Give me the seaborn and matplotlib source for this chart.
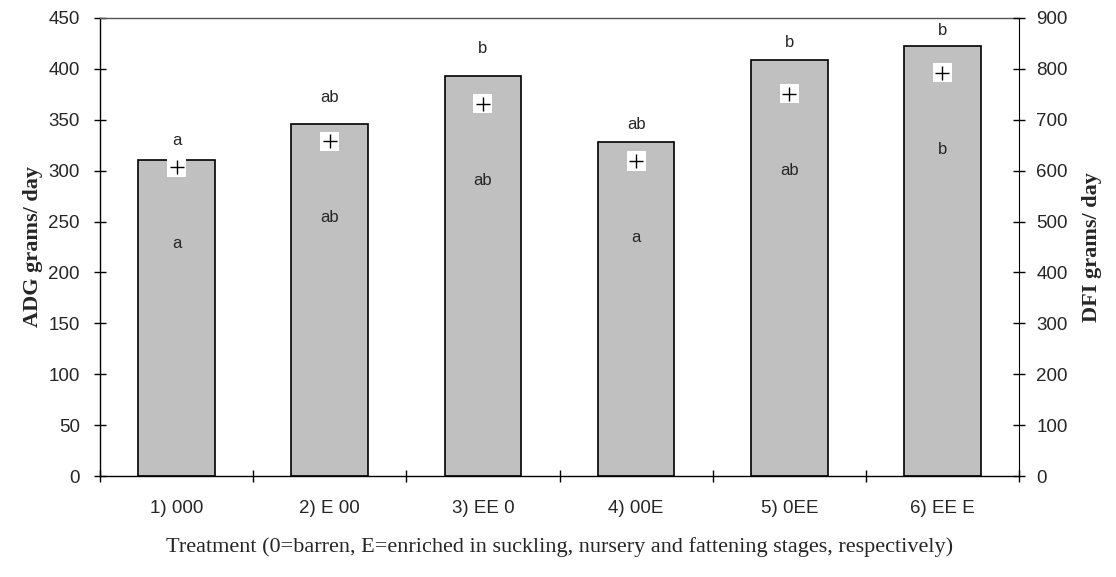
import matplotlib
matplotlib.use("Agg")
import matplotlib.pyplot as plt
import seaborn as sns
import pandas as pd

# values
treatments = ["1) 000", "2) E 00", "3) EE 0", "4) 00E", "5) 0EE", "6) EE E"]
adg = [310, 346, 393, 328, 409, 422]          # bars, left axis
dfi = [607, 658, 731, 619, 751, 792]          # markers, right axis
adg_letters = ["a", "ab", "b", "ab", "b", "b"]
dfi_letters = ["a", "ab", "ab", "a", "ab", "b"]

df = pd.DataFrame({"treatment": treatments, "adg": adg, "dfi": dfi})

sns.set_style("white")
plt.rcParams["font.family"] = ["Liberation Sans", "DejaVu Sans"]

fig = plt.figure(figsize=(11.16, 5.77), dpi=100)
ax = fig.add_axes([0.0896, 0.175, 0.8235, 0.794])

sns.barplot(data=df, x="treatment", y="adg", color="#c0c0c0", saturation=1,
            edgecolor="black", linewidth=1.2, width=0.5, ax=ax)
ax.set_ylim(0, 450)
ax.set_xlim(-0.5, 5.5)
ax.set_yticks(range(0, 451, 50))
ax.set_xticks([i - 0.5 for i in range(7)], minor=True)
ax.tick_params(axis="x", which="major", bottom=False, pad=14, labelsize=13.5)
ax.tick_params(axis="x", which="minor", bottom=True, direction="inout", length=8, width=1, color="black")
ax.tick_params(axis="y", left=True, direction="inout", length=9, width=1, color="black", labelsize=13.5, pad=10)
for s in ax.spines.values():
    s.set_color("black")
    s.set_linewidth(1)
ax.spines["top"].set_color("#555555")
ax.spines["right"].set_visible(False)
ax.set_ylabel("ADG grams/ day", fontfamily="Liberation Serif", fontweight="bold", fontsize=16, labelpad=4)
ax.set_xlabel("Treatment (0=barren, E=enriched in suckling, nursery and fattening stages, respectively)",
              fontfamily="Liberation Serif", fontsize=16, labelpad=14)

# letters above bars
above = [20, 26, 27, 17, 17, 16]
for i, (v, t) in enumerate(zip(adg, adg_letters)):
    ax.text(i, v + above[i], t, ha="center", va="center", fontsize=12)

ax2 = ax.twinx()
sns.scatterplot(data=df, x="treatment", y="dfi", marker="s", s=190, color="white",
                edgecolor="none", ax=ax2, zorder=3)
sns.scatterplot(data=df, x="treatment", y="dfi", marker="+", s=90, color="black",
                linewidth=1.0, ax=ax2, zorder=4)
ax2.set_ylim(0, 900)
ax2.set_xlim(-0.5, 5.5)
ax2.set_yticks(range(0, 901, 100))
ax2.tick_params(axis="y", right=True, direction="inout", length=9, width=1, color="black", labelsize=13.5, pad=8)
for s in ax2.spines.values():
    s.set_visible(False)
ax2.spines["right"].set_visible(True)
ax2.spines["right"].set_color("black")
ax2.set_ylabel("DFI grams/ day", fontfamily="Liberation Serif", fontweight="bold", fontsize=16, labelpad=10)

# letters inside bars, below markers
for i, (v, t) in enumerate(zip(dfi, dfi_letters)):
    ax2.text(i, v - 150, t, ha="center", va="center", fontsize=12)

fig.savefig("out.png", dpi=100)
